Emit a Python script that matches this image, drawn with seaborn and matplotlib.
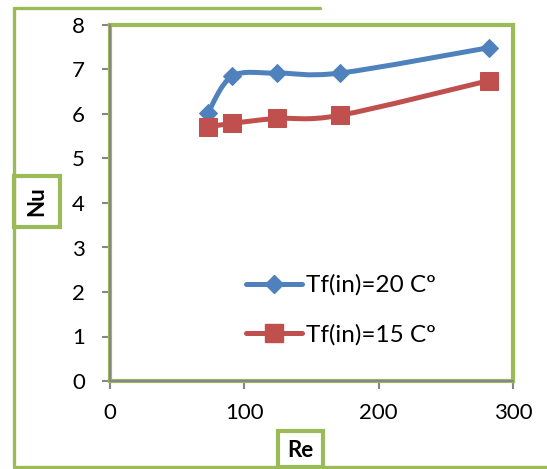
import numpy as np
import matplotlib
matplotlib.use("Agg")
import matplotlib.pyplot as plt
import seaborn as sns
from matplotlib.path import Path
from matplotlib.patches import PathPatch, Rectangle
from matplotlib.lines import Line2D

# data
re_vals = [73, 91, 124, 171, 282]
nu_20 = [6.03, 6.85, 6.92, 6.92, 7.49]
nu_15 = [5.71, 5.79, 5.90, 5.97, 6.75]
labels = ["Tf(in)=20 Cº", "Tf(in)=15 Cº"]

sns.set_theme(style="white")
plt.rcParams['font.family'] = ['Lato', 'DejaVu Sans']
plt.rcParams['text.color'] = 'black'

green = "#9BBB59"
grey = "#868686"
colors = {'t20': "#4F81BD", 't15': "#C0504D"}
fs = 16


def smooth_path(xs, ys):
    # Excel-like smoothed line (Catmull-Rom as cubic bezier)
    pts = np.column_stack([xs, ys]).astype(float)
    n = len(pts)
    verts = [pts[0]]
    codes = [Path.MOVETO]
    for i in range(n - 1):
        p0 = pts[i - 1] if i > 0 else pts[i]
        p1 = pts[i]
        p2 = pts[i + 1]
        p3 = pts[i + 2] if i + 2 < n else pts[i + 1]
        c1 = p1 + (p2 - p0) / 6
        c2 = p2 - (p3 - p1) / 6
        verts += [c1, c2, p2]
        codes += [Path.CURVE4] * 3
    return Path(verts, codes)


fig = plt.figure(figsize=(5.47, 4.69), dpi=100)
ax = fig.add_axes([110 / 547, 88 / 469, 403 / 547, 356 / 469])

for ys, c, m, ms in [(nu_20, colors['t20'], 'D', 9.5), (nu_15, colors['t15'], 's', 13.5)]:
    ax.add_patch(PathPatch(smooth_path(re_vals, ys), fill=False, edgecolor=c,
                           lw=3.6, capstyle='round', joinstyle='round', zorder=3))
    sns.lineplot(x=re_vals, y=ys, ax=ax, marker=m, markersize=ms, color=c,
                 linestyle='none', markeredgecolor=c, zorder=4)

ax.set_xlim(0, 300)
ax.set_ylim(0, 8)
ax.set_xticks([0, 100, 200, 300])
ax.set_yticks(range(0, 9))
ax.tick_params(axis='both', direction='out', length=6, width=1.5, color=grey,
               labelsize=fs, labelcolor='black', left=True, bottom=True)
ax.tick_params(axis='y', pad=12)
ax.tick_params(axis='x', pad=10)
for s in ax.spines.values():
    s.set_color(green)
    s.set_linewidth(3)
ax.axvline(0, color=grey, lw=1.5, zorder=5, clip_on=False)
ax.axhline(0, color=grey, lw=1.5, zorder=5, clip_on=False)
ax.set_xlabel("")
ax.set_ylabel("")

handles = [Line2D([], [], color=colors['t20'], marker='D', markersize=9.5, lw=3.6,
                  solid_capstyle='round'),
           Line2D([], [], color=colors['t15'], marker='s', markersize=13.5, lw=3.6,
                  solid_capstyle='round')]
ax.legend(handles, labels, loc='center left', bbox_to_anchor=(246 / 547, 1 - 310 / 469),
          bbox_transform=fig.transFigure, frameon=False, fontsize=17.5,
          handlelength=2.3, handletextpad=0.16, labelspacing=1.15, borderpad=0,
          borderaxespad=0)

# outer chart frame (partly visible)
W, H = 547, 469
fig.add_artist(Line2D([14 / W, 14 / W], [1 - 467 / H, 1 - 8 / H], color=green, lw=2.4,
                      transform=fig.transFigure))
fig.add_artist(Line2D([14 / W, 320 / W], [1 - 8 / H, 1 - 8 / H], color=green, lw=2.4,
                      transform=fig.transFigure))
fig.add_artist(Line2D([14 / W, 1], [1 - 467 / H, 1 - 467 / H], color=green, lw=2.4,
                      transform=fig.transFigure))

# axis title boxes
fig.add_artist(Rectangle((14 / W, 1 - 227 / H), 46 / W, 51 / H, transform=fig.transFigure,
                         facecolor='white', edgecolor=green, lw=3))
fig.text(37 / W, 1 - 201 / H, "Nu", rotation=90, ha='center', va='center',
         fontsize=fs, fontweight='bold')
fig.add_artist(Rectangle((278 / W, 1 - 467 / H), 45 / W, 36 / H, transform=fig.transFigure,
                         facecolor='white', edgecolor=green, lw=3))
fig.text(300 / W, 1 - 450 / H, "Re", ha='center', va='center',
         fontsize=fs, fontweight='bold')

fig.savefig("out.png", dpi=100)
